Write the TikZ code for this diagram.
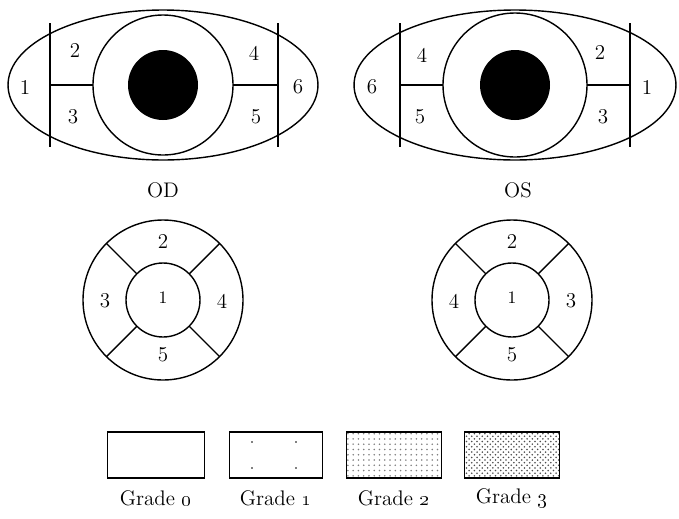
\documentclass[tikz,border=0pt]{standalone}
\usetikzlibrary{patterns,shapes.geometric,calc}
\begin{document}
\begin{tikzpicture}[x=0.02cm,y=-0.02cm,line width=0.8pt,
  lbl/.style={font=\large},
  gbox/.style={draw,minimum width=1.9cm,minimum height=0.92cm,inner sep=0}]
\useasboundingbox (0,0) rectangle (679,518);
% left eye
\node[draw,ellipse,minimum width=6.2cm,minimum height=3cm] (le) at (163,85) {};
\draw (163,85) circle (70);
\fill (163,85) circle (35);
\draw (50,23) -- (50,147) (278,23) -- (278,147) (50,85) -- (93,85) (233,85) -- (278,85);
\node[lbl] (l1) at (25,87) {1}; \node[lbl] (l2) at (75,50) {2}; \node[lbl] (l3) at (73,117) {3};
\node[lbl] (l4) at (254,53) {4}; \node[lbl] (l5) at (256,117) {5}; \node[lbl] (l6) at (298,87) {6};
\node[lbl] (od) at (163,190) {OD};
% right eye
\node[draw,ellipse,minimum width=6.44cm,minimum height=3cm] (re) at (515,85) {};
\draw (515,85) circle (72);
\fill (515,85) circle (35);
\draw (400,23) -- (400,147) (630,23) -- (630,147) (400,85) -- (443,85) (587,85) -- (630,85);
\node[lbl] (r6) at (372,87) {6}; \node[lbl] (r4) at (422,55) {4}; \node[lbl] (r5) at (420,117) {5};
\node[lbl] (r2) at (600,52) {2}; \node[lbl] (r3) at (603,117) {3}; \node[lbl] (r1) at (647,87) {1};
\node[lbl] (os) at (518,190) {OS};
% corneal circles
\foreach \cx/\a/\b/\c/\d/\e in {163/2/3/1/4/5, 512/2/4/1/3/5}{
  \draw (\cx,300) circle (80) (\cx,300) circle (37);
  \foreach \ang in {45,135,225,315}
    \draw ($(\cx,300)+(\ang:37)$) -- ($(\cx,300)+(\ang:80)$);
  \node[lbl] at (\cx,241) {\a};
  \node[lbl] at (\cx-58,301) {\b};
  \node at (\cx,298) {\c};
  \node[lbl] at (\cx+59,301) {\d};
  \node[lbl] at (\cx,355) {\e};
}
% legend
\node[gbox,minimum width=1.94cm] (g0) at (156,455) {};
\node[gbox,minimum width=1.86cm] (g1) at (276,455) {};
\foreach \p in {(252,442),(296,442),(252,468),(296,468)} \fill \p circle (0.9);
\node[gbox,pattern=dots,pattern color=gray] (g2) at (394,455) {};
\node[gbox,pattern=crosshatch dots,pattern color=black!70] (g3) at (512,455) {};
\foreach \n/\x/\k in {g0/156/0,g1/276/1,g2/394/2,g3/512/3}
  \node[lbl] at (\x,498) {Grade \oldstylenums{\k}};
\end{tikzpicture}
\end{document}
